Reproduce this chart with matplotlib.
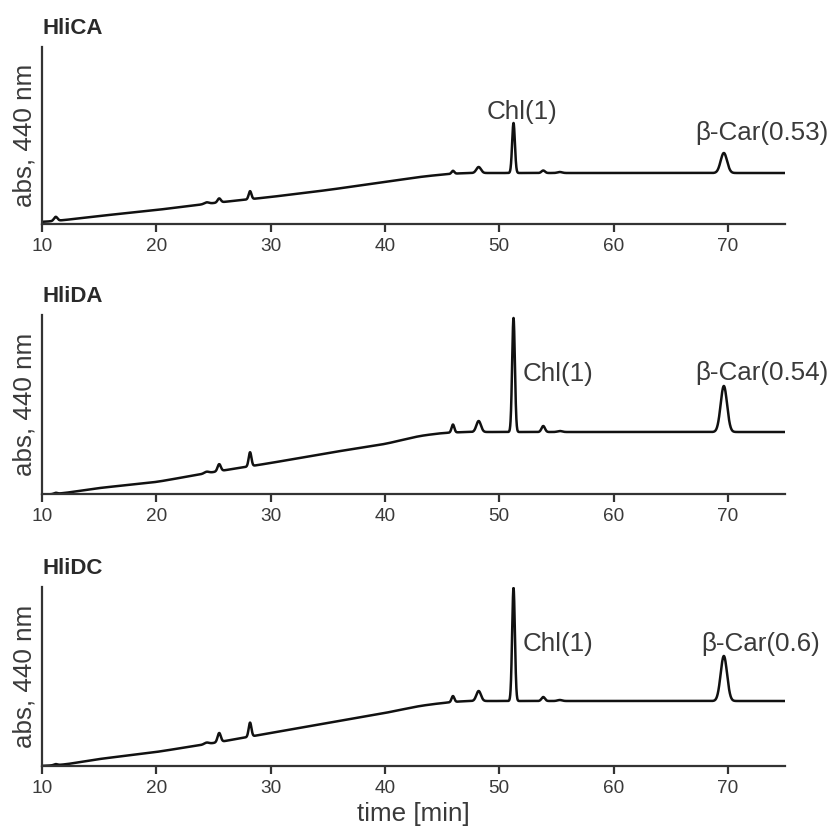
import numpy as np
import matplotlib
matplotlib.use("Agg")
import matplotlib.pyplot as plt

plt.rcParams['font.family'] = ['Liberation Sans', 'DejaVu Sans']

# ---------------- data ----------------
panel_titles = ["HliCA", "HliDA", "HliDC"]
x_ticks = [10, 20, 30, 40, 50, 60, 70]

# baseline knots (time [min], absorbance in arbitrary units)
base_t = [10, 12, 15, 20, 25, 30, 35, 40, 43, 45, 47, 75]
base_ca = [2, 4, 8, 14, 21, 27, 34, 42, 47, 49.5, 51, 51]
base_da = [-1, 1, 6, 12, 22, 31, 41, 50, 58, 61, 62, 62]
base_dc = [0, 1.5, 7, 14, 23, 33, 43, 53, 60, 63, 65, 65]

# peaks: retention time, height above baseline, width (sigma)
peak_t = [11.2, 24.4, 25.5, 28.2, 45.95, 48.2, 51.25, 53.85, 55.3, 69.65]
peak_w = [0.15, 0.2, 0.14, 0.12, 0.12, 0.2, 0.12, 0.15, 0.2, 0.28]
peak_ca = [4, 1.5, 4, 8, 3, 6, 50, 2.5, 1, 20]
peak_da = [1, 1.5, 7, 14, 8, 11, 114, 6, 1, 46]
peak_dc = [1, 1.5, 9, 14, 6, 10, 113, 4, 1, 45]

ylims = [177, 179, 179]

# annotations: (label, x, y baseline)
labels_ca = [("Chl(1)", 52.0, 104.5), ("β-Car(0.53)", 72.95, 84)]
labels_da = [("Chl(1)", 55.1, 113), ("β-Car(0.54)", 72.95, 114)]
labels_dc = [("Chl(1)", 55.1, 115), ("β-Car(0.6)", 72.9, 115)]

bases = [base_ca, base_da, base_dc]
peaks = [peak_ca, peak_da, peak_dc]
labels = [labels_ca, labels_da, labels_dc]

# ---------------- figure ----------------
fig = plt.figure(figsize=(8.32, 8.33), dpi=100)
W, H = 832, 833
left_px, right_px = 42, 785
axes_px = [(47, 224), (315, 494), (587, 766)]
tc = '#3a3a3a'
ac = '#333333'

t = np.linspace(10, 75, 6501)
dt = t[1] - t[0]
kn = int(1.5 / dt)
kernel = np.ones(kn) / kn
for i, (top, bot) in enumerate(axes_px):
    ax = fig.add_axes([left_px / W, 1 - bot / H, (right_px - left_px) / W, (bot - top) / H])
    b = np.interp(t, base_t, bases[i])
    # smooth the kinks between baseline knots
    bp = np.concatenate([np.full(kn, b[0]), b, np.full(kn, b[-1])])
    b = np.convolve(bp, kernel, mode='same')[kn:-kn]
    y = b.copy()
    for pt, ph, pw in zip(peak_t, peaks[i], peak_w):
        y = y + ph * np.exp(-0.5 * ((t - pt) / pw) ** 2)
    ax.plot(t, y, color='#111111', lw=1.8, solid_joinstyle='round')
    ax.set_xlim(10, 75)
    ax.set_ylim(0, ylims[i])
    ax.set_xticks(x_ticks)
    ax.set_yticks([])
    for s in ['top', 'right']:
        ax.spines[s].set_visible(False)
    for s in ['left', 'bottom']:
        ax.spines[s].set_linewidth(1.6)
        ax.spines[s].set_color(ac)
    ax.tick_params(axis='x', direction='out', length=6, width=1.6, color=ac,
                   labelsize=13.7, labelcolor=tc, pad=4)
    ax.set_ylabel("abs, 440 nm", fontsize=18.7, color=tc)
    ax.yaxis.set_label_coords(-0.007, 0.5)
    ax.set_title(panel_titles[i], loc='left', fontsize=16, fontweight='bold',
                 color='#2a2a2a', pad=9)
    for txt, lx, ly in labels[i]:
        ax.text(lx, ly, txt, ha='center', va='baseline', fontsize=18.7,
                color=tc, clip_on=False)
    if i == 2:
        ax.set_xlabel("time [min]", fontsize=18.7, color=tc)

fig.savefig("out.png", dpi=100)
